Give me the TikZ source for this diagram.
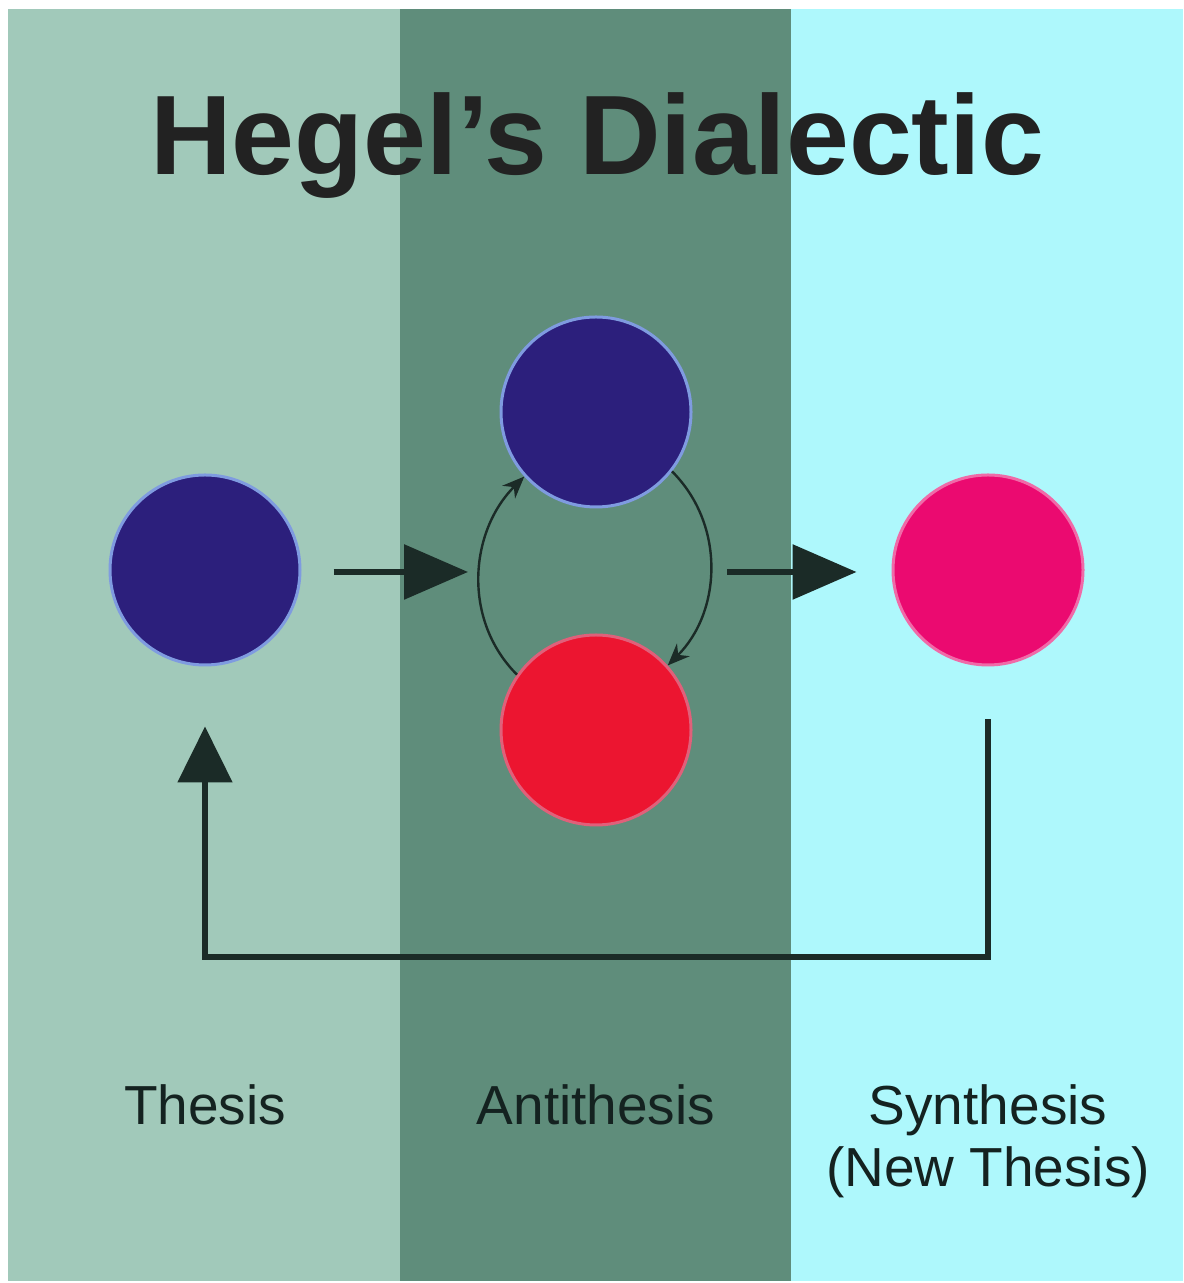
\documentclass[tikz,border=0pt]{standalone}
\usepackage{fontspec}
\setmainfont{Liberation Sans}
\usetikzlibrary{arrows.meta, positioning}

\definecolor{panelL}{HTML}{A1C9BA}
\definecolor{panelM}{HTML}{5F8D7B}
\definecolor{panelR}{HTML}{AEF8FC}
\definecolor{navy}{HTML}{2C1F7C}
\definecolor{halo}{HTML}{7F9BE0}
\definecolor{redc}{HTML}{EC1530}
\definecolor{redhalo}{HTML}{E0607A}
\definecolor{magc}{HTML}{EB0A70}
\definecolor{maghalo}{HTML}{F06AA8}
\definecolor{arrowdark}{HTML}{1B2B27}
\definecolor{titletext}{HTML}{222222}
\definecolor{labtext}{HTML}{142220}

\begin{document}
\begin{tikzpicture}[x=0.5pt, y=0.5pt,
    dot/.style={circle, minimum size=95pt, inner sep=0pt, line width=1.5pt},
    big/.style={-{Triangle[length=32pt,width=27pt]}, line width=3pt, draw=arrowdark},
    back/.style={-{Triangle[length=28pt,width=27pt]}, line width=2.6pt, draw=arrowdark, line join=miter},
    cyc/.style={-{Stealth[length=11pt,width=9pt]}, line width=1.2pt, draw=arrowdark},
    lab/.style={font=\fontsize{27.5}{30}\selectfont, text=labtext, anchor=base}
]

% rammen
\useasboundingbox (0,0) rectangle (1183,1283);
\fill[white] (0,0) rectangle (1183,1283);

% tre felter
\fill[panelL] (8,2) rectangle (400,1274);
\fill[panelM] (400,2) rectangle (791,1274);
\fill[panelR] (791,2) rectangle (1183,1274);

% titel
\node[font=\fontsize{56.5}{60}\selectfont\bfseries, text=titletext, anchor=base] (title) at (597,1108) {Hegel’s Dialectic};

% cirkler
\node[dot, fill=navy, draw=halo] (thesis) at (205,713) {};
\node[dot, fill=navy, draw=halo] (anti1) at (596,871) {};
\node[dot, fill=redc, draw=redhalo] (anti2) at (596,553) {};
\node[dot, fill=magc, draw=maghalo] (synth) at (988,713) {};

% tekster
\node[lab] (thesisLab) at (205,158) {Thesis};
\node[lab] (antiLab) at (596,158) {Antithesis};
\node[lab] (synthLab) at (988,158) {Synthesis};
\node[lab] (newLab) at (988,96) {(New Thesis)};

% pile frem
\coordinate (cycW) at (468,711);
\coordinate (cycE) at (727,711);
\draw[big, shorten <=16pt] (thesis.east |- cycW) -- (cycW);
\draw[big, shorten >=17.5pt] (cycE) -- (synth.west |- cycE);

% kredsloeb
\draw[cyc] (anti2.145) to[out=135,in=-135] (anti1.222);
\draw[cyc] (anti1.-38) to[out=-45,in=45] (anti2.42);

% tilbage til tesen
\coordinate (loop) at (0,326);
\draw[back, shorten <=26.5pt, shorten >=30pt] (synth.south) -- (synth.south |- loop) -| (thesis.south);

\end{tikzpicture}
\end{document}
